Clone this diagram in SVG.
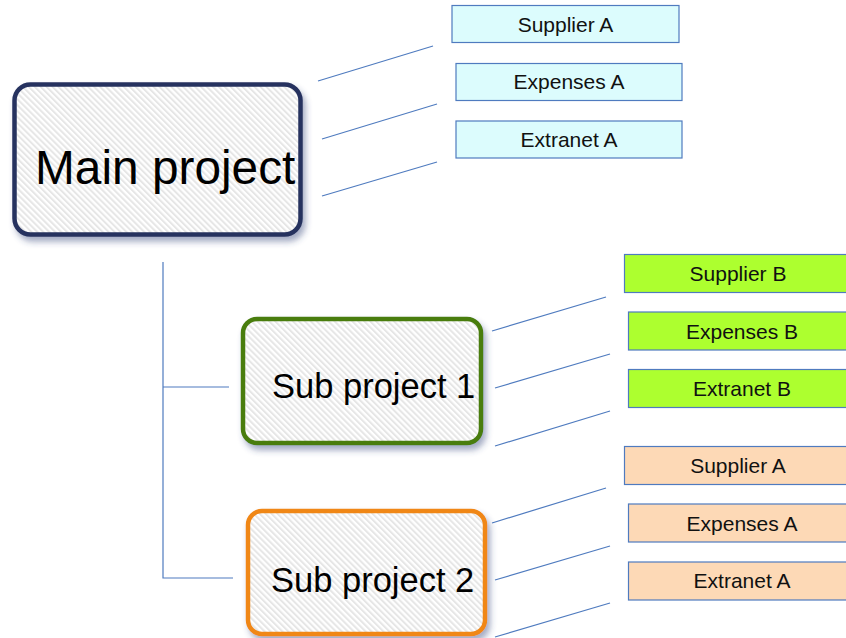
<svg xmlns="http://www.w3.org/2000/svg" width="846" height="638" viewBox="0 0 846 638">
  <defs>
    <!-- diagonal light-grey hatching used inside the project boxes -->
    <pattern id="hatch" width="4.2" height="4.2" patternUnits="userSpaceOnUse" patternTransform="rotate(-45)">
      <rect width="4.2" height="4.2" fill="#ffffff"/>
      <rect width="2" height="4.2" fill="#e6e6e6"/>
    </pattern>
    <filter id="shadow" x="-10%" y="-10%" width="130%" height="140%">
      <feDropShadow dx="3" dy="5" stdDeviation="3" flood-color="#34447a" flood-opacity="0.45"/>
    </filter>
    <style>
      .proj { fill: url(#hatch); stroke-width: 4.5; filter: url(#shadow); }
      .projtxt { font-family: "Liberation Sans", Arial, sans-serif; fill: #000000; }
      .item { stroke: #4f7bbf; stroke-width: 1.2; }
      .itemtxt { font-family: "Liberation Sans", Arial, sans-serif; font-size: 21px; fill: #111111; text-anchor: middle; }
      .a { fill: #dcfcfd; }
      .b { fill: #adff2f; }
      .c { fill: #fdd9b6; }
      .conn line, .conn polyline { stroke: #4f7bbf; stroke-width: 1.2; fill: none; }
    </style>
  </defs>

  <g class="conn" id="connectors">
    <!-- tree spine -->
    <polyline points="163,262 163,578 233,578"/>
    <line x1="163" y1="387" x2="229" y2="387"/>
    <!-- main project leaders -->
    <line x1="318" y1="81" x2="433" y2="46"/>
    <line x1="322" y1="139" x2="437" y2="104"/>
    <line x1="322" y1="196" x2="437" y2="162"/>
    <!-- sub project 1 leaders -->
    <line x1="492" y1="331" x2="606" y2="297"/>
    <line x1="495" y1="388" x2="610" y2="354"/>
    <line x1="495" y1="446" x2="610" y2="411"/>
    <!-- sub project 2 leaders -->
    <line x1="492" y1="523" x2="606" y2="488"/>
    <line x1="495" y1="580" x2="610" y2="546"/>
    <line x1="495" y1="637" x2="610" y2="603"/>
  </g>

  <g id="main-project">
    <rect class="proj" x="14.5" y="84.5" width="286" height="150" rx="16" stroke="#27335f"/>
    <text class="projtxt" x="35" y="184" font-size="47.8">Main project</text>
  </g>

  <g id="sub-project-1">
    <rect class="proj" x="243" y="319" width="238" height="124" rx="14" stroke="#4a7d10"/>
    <text class="projtxt" x="272" y="398" font-size="34.5">Sub project 1</text>
  </g>

  <g id="sub-project-2">
    <rect class="proj" x="248" y="511" width="237" height="123" rx="14" stroke="#f08718"/>
    <text class="projtxt" x="271" y="592" font-size="34.5">Sub project 2</text>
  </g>

  <g id="supplier-a-main">
    <rect class="item a" x="452" y="5.5" width="227" height="37"/>
    <text class="itemtxt" x="565.5" y="32">Supplier A</text>
  </g>
  <g id="expenses-a-main">
    <rect class="item a" x="456" y="63.5" width="226" height="37"/>
    <text class="itemtxt" x="569" y="89">Expenses A</text>
  </g>
  <g id="extranet-a-main">
    <rect class="item a" x="456" y="121" width="226" height="37"/>
    <text class="itemtxt" x="569" y="147">Extranet A</text>
  </g>

  <g id="supplier-b">
    <rect class="item b" x="624.5" y="254.5" width="227" height="38"/>
    <text class="itemtxt" x="738" y="281">Supplier B</text>
  </g>
  <g id="expenses-b">
    <rect class="item b" x="628.5" y="312" width="227" height="38"/>
    <text class="itemtxt" x="742" y="339">Expenses B</text>
  </g>
  <g id="extranet-b">
    <rect class="item b" x="628.5" y="369.5" width="227" height="38"/>
    <text class="itemtxt" x="742" y="396">Extranet B</text>
  </g>

  <g id="supplier-a-sub2">
    <rect class="item c" x="624.5" y="446.5" width="227" height="38"/>
    <text class="itemtxt" x="738" y="473">Supplier A</text>
  </g>
  <g id="expenses-a-sub2">
    <rect class="item c" x="628.5" y="504" width="227" height="38"/>
    <text class="itemtxt" x="742" y="531">Expenses A</text>
  </g>
  <g id="extranet-a-sub2">
    <rect class="item c" x="628.5" y="562" width="227" height="38"/>
    <text class="itemtxt" x="742" y="588">Extranet A</text>
  </g>
</svg>
